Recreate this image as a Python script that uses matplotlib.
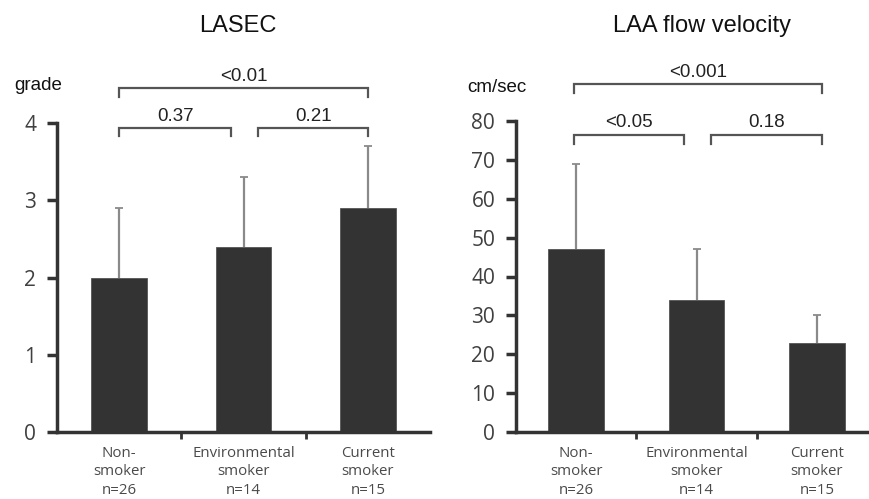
import matplotlib
matplotlib.use("Agg")
import matplotlib.pyplot as plt

categories = ["Non-\nsmoker\nn=26", "Environmental\nsmoker\nn=14", "Current\nsmoker\nn=15"]
lasec_mean = [2.0, 2.4, 2.9]
lasec_err = [0.9, 0.9, 0.8]
laa_mean = [47, 34, 23]
laa_err = [22, 13, 7]
lasec_ticks = [0, 1, 2, 3, 4]
laa_ticks = [0, 10, 20, 30, 40, 50, 60, 70, 80]
lasec_p = ["0.37", "0.21", "<0.01"]
laa_p = ["<0.05", "0.18", "<0.001"]

plt.rcParams['font.family'] = ['Liberation Sans', 'DejaVu Sans']

fig = plt.figure(figsize=(8.69, 4.99), dpi=100)
W, H = 869, 499

def add_ax(x0, x1, ybot, ytop):
    return fig.add_axes([x0 / W, 1 - ybot / H, (x1 - x0) / W, (ybot - ytop) / H])

ax1 = add_ax(57, 430, 432, 123)
ax2 = add_ax(516, 877, 432, 121)

bar_col = "#333333"
spine_col = "#333333"

def style(ax, means, errs, ticks, ymax, width):
    x = list(range(len(means)))
    tops = [m + e for m, e in zip(means, errs)]
    ax.vlines(x, means, tops, colors="#8a8a8a", linewidth=1.6, zorder=1)
    ax.scatter(x, tops, marker="_", s=40, color="#8a8a8a", linewidths=1.3, zorder=1, clip_on=False)
    ax.bar(x, means, width=width, color=bar_col, edgecolor="#555555", linewidth=0.6, zorder=2)
    ax.set_xlim(-0.5, 2.5)
    ax.set_ylim(0, ymax)
    ax.set_yticks(ticks)
    ax.set_yticklabels([str(t) for t in ticks], fontsize=15, color="#404040",
                       family=["Open Sans", "DejaVu Sans"])
    ax.set_xticks([0.5, 1.5])
    ax.set_xticklabels([])
    ax.tick_params(axis="x", length=5, width=2, color=spine_col, direction="out")
    ax.tick_params(axis="y", length=7, width=2.5, color=spine_col, direction="out", pad=8)
    for s in ["top", "right"]:
        ax.spines[s].set_visible(False)
    for s in ["left", "bottom"]:
        ax.spines[s].set_color(spine_col)
        ax.spines[s].set_linewidth(2.5)
    for i, lab in enumerate(categories):
        ax.text(i, -0.045, lab, transform=ax.get_xaxis_transform(), ha="center", va="top",
                fontsize=10.8, color="#4a4a4a", linespacing=1.3, family=["Open Sans", "DejaVu Sans"])

style(ax1, lasec_mean, lasec_err, lasec_ticks, 4, 0.45)
style(ax2, laa_mean, laa_err, laa_ticks, 80, 0.46)

def bracket(ax, x0, x1, y, leg, text, ty):
    ax.plot([x0, x0, x1, x1], [y - leg, y, y, y - leg], color="#555555", lw=1.6,
            clip_on=False, solid_joinstyle="miter")
    ax.text((x0 + x1) / 2, ty, text, ha="center", va="bottom", fontsize=13.5, color="#222222")

# LASEC brackets (data units)
bracket(ax1, 0.0, 0.9, 3.94, 0.11, lasec_p[0], 3.98)
bracket(ax1, 1.12, 2.0, 3.94, 0.11, lasec_p[1], 3.98)
bracket(ax1, 0.0, 2.0, 4.45, 0.11, lasec_p[2], 4.49)

# LAA brackets
bracket(ax2, -0.02, 0.9, 76.4, 2.2, laa_p[0], 77.4)
bracket(ax2, 1.12, 2.04, 76.4, 2.2, laa_p[1], 77.4)
bracket(ax2, -0.02, 2.04, 89.5, 2.2, laa_p[2], 90.4)

fig.text(238 / W, 1 - 26 / H, "LASEC", ha="center", va="center", fontsize=17, color="#111111")
fig.text(702 / W, 1 - 26 / H, "LAA flow velocity", ha="center", va="center", fontsize=17, color="#111111")
fig.text(38 / W, 1 - 86 / H, "grade", ha="center", va="center", fontsize=13.5, color="#111111")
fig.text(497 / W, 1 - 88 / H, "cm/sec", ha="center", va="center", fontsize=13.5, color="#111111")

fig.savefig("out.png", dpi=100, facecolor="white")
